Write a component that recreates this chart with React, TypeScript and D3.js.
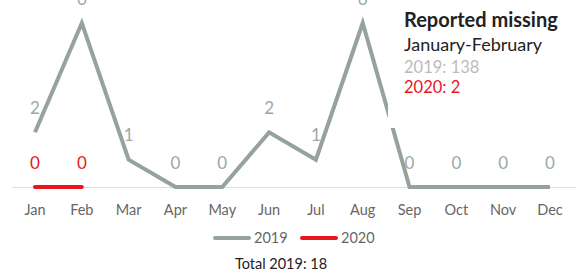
import React from "react";
import * as d3 from "d3";

const months = ["Jan", "Feb", "Mar", "Apr", "May", "Jun", "Jul", "Aug", "Sep", "Oct", "Nov", "Dec"];
const values2019 = [2, 6, 1, 0, 0, 2, 1, 6, 0, 0, 0, 0];
const months2020 = ["Jan", "Feb"];
const values2020 = [0, 0];
const titleLines = ["Reported missing", "January-February", "2019: 138", "2020: 2"];
const legendLabels = ["2019", "2020"];
const totalText = "Total 2019: 18";

const W = 576;
const H = 277;
const GRAY = "#95a39b";
const GRAY_LABEL = "#9ba9a2";
const RED = "#e8161d";
const FONT = "Lato, 'Open Sans', sans-serif";

export default function App() {
  const x = d3.scalePoint<string>().domain(months).range([35, 550]);
  const y = d3.scaleLinear().domain([0, 6]).range([187, 23]);
  const line = d3
    .line<number>()
    .x((_, i) => x(months[i]) as number)
    .y((d) => y(d));
  const line2020 = d3
    .line<number>()
    .x((_, i) => x(months2020[i]) as number)
    .y((d) => y(d));

  return (
    <svg
      width={W}
      height={H}
      style={{ position: "absolute", left: 0, top: 0, display: "block" }}
      fontFamily={FONT}
    >
      <rect width={W} height={H} fill="#fff" />
      <line x1={12} x2={576} y1={y(0) + 0.5} y2={y(0) + 0.5} stroke="#dddddd" strokeWidth={1} />
      <path d={line(values2019) || ""} fill="none" stroke={GRAY} strokeWidth={4} strokeLinejoin="miter" />
      <path d={line2020(values2020) || ""} fill="none" stroke={RED} strokeWidth={4} strokeLinecap="round" />
      {values2019.map((v, i) => {
        const m = months[i];
        const is2020 = months2020.includes(m);
        if (is2020) return null;
        return (
          <text key={m} x={x(m)} y={y(v) - 18.5} textAnchor="middle" fontSize={17} fill={GRAY_LABEL}>
            {v}
          </text>
        );
      })}
      {months2020.map((m, i) => (
        <g key={"l" + m}>
          <text x={x(m)} y={y(values2019[months.indexOf(m)]) - 18.5} textAnchor="middle" fontSize={17} fill={GRAY_LABEL}>
            {values2019[months.indexOf(m)]}
          </text>
          <text x={x(m)} y={y(values2020[i]) - 18.5} textAnchor="middle" fontSize={17} fill={RED}>
            {values2020[i]}
          </text>
        </g>
      ))}
      {months.map((m) => (
        <text key={"t" + m} x={x(m)} y={215} textAnchor="middle" fontSize={14.5} fill="#666">
          {m}
        </text>
      ))}
      <rect x={388} y={0} width={W - 388} height={128} fill="#fff" />
      <text x={404} y={27} fontSize={20} fontWeight="bold" fill="#222">{titleLines[0]}</text>
      <text x={404} y={51} fontSize={18} fill="#222">{titleLines[1]}</text>
      <text x={404} y={73} fontSize={16.5} fill="#bbbbbb">{titleLines[2]}</text>
      <text x={404} y={93} fontSize={16.5} fill={RED}>{titleLines[3]}</text>
      <g>
        <line x1={215} x2={249} y1={238} y2={238} stroke={GRAY} strokeWidth={4} strokeLinecap="round" />
        <text x={254} y={243} fontSize={14.5} fill="#666">{legendLabels[0]}</text>
        <line x1={302} x2={336} y1={238} y2={238} stroke={RED} strokeWidth={4} strokeLinecap="round" />
        <text x={341} y={243} fontSize={14.5} fill="#666">{legendLabels[1]}</text>
      </g>
      <text x={281} y={269} textAnchor="middle" fontSize={14.5} fill="#222">{totalText}</text>
    </svg>
  );
}
